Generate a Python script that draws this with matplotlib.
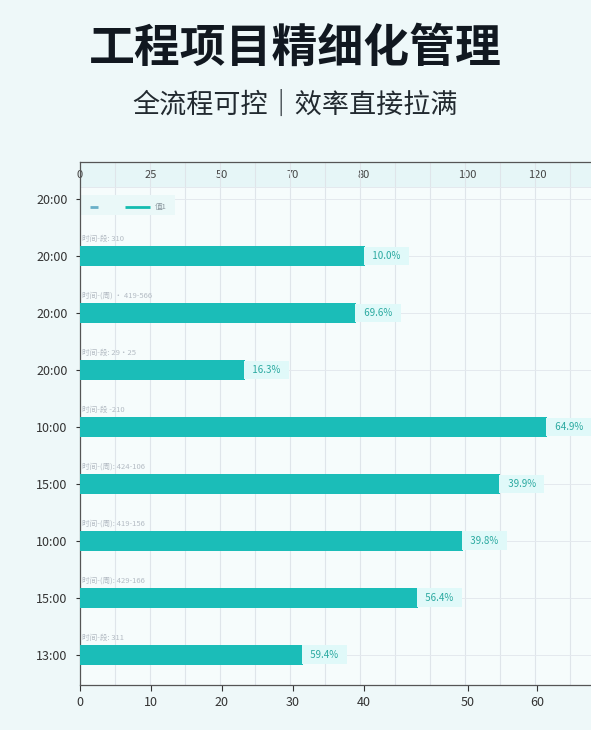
import matplotlib.pyplot as plt

plt.rcParams['font.family'] = ['Noto Sans CJK SC', 'DejaVu Sans']

# data (values in axis units)
y_labels = ['20:00', '20:00', '20:00', '20:00', '10:00', '15:00', '10:00', '15:00', '13:00']
values = [None, 40.1, 38.9, 23.2, 65.8, 59.2, 53.9, 47.6, 31.4]
pct_labels = [None, '10.0%', '69.6%', '16.3%', '64.9%', '39.9%', '39.8%', '56.4%', '59.4%']
note_labels = [None, '时间-段: 310', '时间-(周) · 419-566', '时间-段: 29·25', '时间-段 -210',
               '时间-(周): 424-106', '时间-(周): 419-156', '时间-(周): 429-166', '时间-段: 311']
bottom_ticks = [0, 10, 20, 30, 40, 54.6, 64.4]
bottom_tick_labels = ['0', '10', '20', '30', '40', '50', '60']
top_tick_labels = ['0', '25', '50', '70', '80', '100', '120']

bar_color = '#1bbdb8'
bg = '#eef8f9'

fig = plt.figure(figsize=(5.91, 7.30), dpi=100, facecolor=bg)
fig.text(0.5, 0.933, '工程项目精细化管理', ha='center', va='center',
         fontsize=33, fontweight='bold', color='#111820')
fig.text(0.5, 0.856, '全流程可控｜效率直接拉满', ha='center', va='center',
         fontsize=19.5, color='#222a30')

ax = fig.add_axes([80 / 591, 1 - 685 / 730, 511 / 591, 523 / 730])
ax.set_facecolor('#f6fcfc')
ax.set_xlim(0, 72)
ax.set_ylim(8.53, -0.65)

# top band
ax.axhspan(-0.65, -0.21, color='#e6f6f7', zorder=0, lw=0)

for x in range(5, 72, 5):
    ax.axvline(x * 0.986, color='#dfe5ea', lw=0.8, zorder=1)
for i in range(len(y_labels)):
    ax.axhline(i, color='#e4e9ee', lw=0.7, zorder=1)
ax.axhline(-0.21, color='#e4e9ee', lw=0.7, zorder=1)

for i, v in enumerate(values):
    if v is None:
        continue
    ax.barh(i, v, height=0.35, color=bar_color, zorder=3)
    ax.text(v + 0.5, i, '  ' + pct_labels[i] + '  ', va='center', ha='left',
            fontsize=7, color='#2aa9a0', zorder=4,
            bbox=dict(boxstyle='square,pad=0.45', fc='#e0f9f9', ec='none'))
    ax.text(0.3, i - 0.3, note_labels[i], va='center', ha='left',
            fontsize=5.5, color='#b4bcc4', zorder=4)

# legend row
ax.axhspan(-0.07, 0.28, xmin=0, xmax=95 / 511, color='#eaf8f8', lw=0, zorder=2)
ax.plot([1.4, 2.5], [0.14, 0.14], color='#6ab0c8', lw=2, zorder=3, solid_capstyle='butt')
ax.plot([6.4, 9.8], [0.14, 0.14], color='#14bcb0', lw=2, zorder=3, solid_capstyle='butt')
ax.text(10.5, 0.14, '值1', va='center', ha='left', fontsize=5.5, color='#8a969e', zorder=3)

ax.set_yticks(range(len(y_labels)))
ax.set_yticklabels(y_labels)
ax.set_xticks(bottom_ticks)
ax.set_xticklabels(bottom_tick_labels)
ax.tick_params(axis='y', labelsize=9, colors='#333', length=3, pad=6)
ax.tick_params(axis='x', labelsize=9, colors='#333', length=4, pad=4)

top = ax.secondary_xaxis('top')
top.set_xticks(bottom_ticks)
top.set_xticklabels(top_tick_labels)
top.tick_params(labelsize=8, colors='#444', length=0, pad=-13)
top.spines['top'].set_visible(False)

ax.spines['right'].set_visible(False)
for s in ['left', 'bottom', 'top']:
    ax.spines[s].set_color('#555')
    ax.spines[s].set_linewidth(0.9)

fig.savefig('out.png', dpi=100, facecolor=bg)
